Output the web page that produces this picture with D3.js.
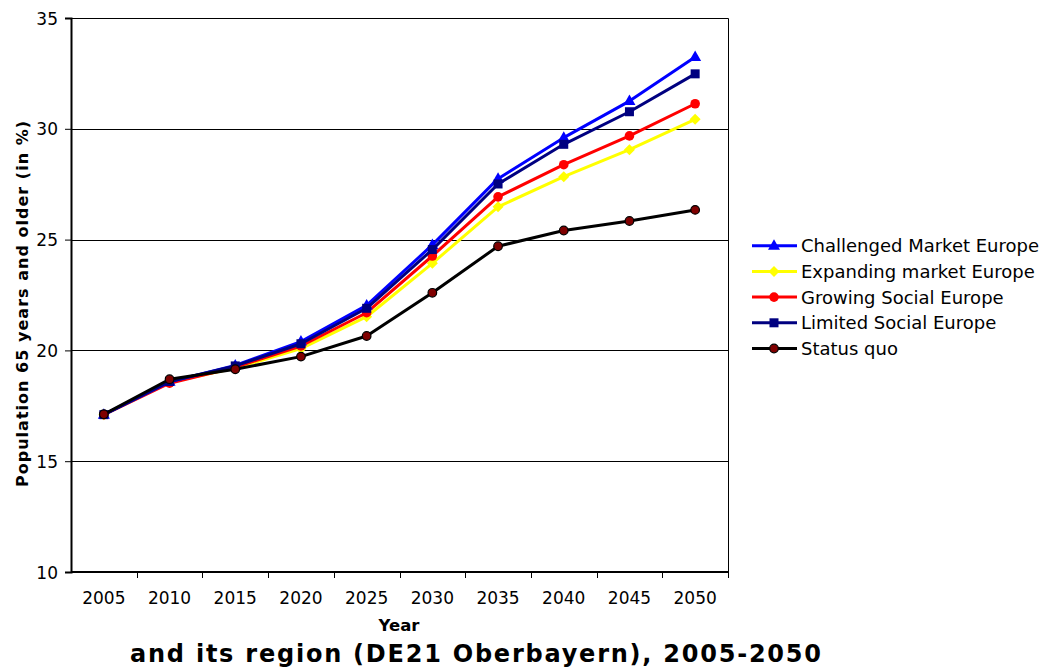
<!DOCTYPE html>
<html>
<head>
<meta charset="utf-8">
<script src="https://cdn.jsdelivr.net/npm/d3@7"></script>
<style>
  html, body { margin: 0; padding: 0; background: #fff; }
  svg { display: block; }
  text { font-family: "DejaVu Sans", Verdana, sans-serif; fill: #000; }
</style>
</head>
<body>
<svg id="chart" width="1044" height="668"></svg>
<script>
// Share of population aged 65+ (%) by scenario
const years = ["2005", "2010", "2015", "2020", "2025", "2030", "2035", "2040", "2045", "2050"];
const challengedMarket = [17.1, 18.58, 19.32, 20.40, 22.03, 24.76, 27.75, 29.60, 31.25, 33.24];
const expandingMarket  = [17.1, 18.56, 19.20, 20.08, 21.52, 23.93, 26.48, 27.84, 29.06, 30.43];
const growingSocial    = [17.1, 18.52, 19.24, 20.20, 21.70, 24.26, 26.93, 28.38, 29.68, 31.13];
const limitedSocial    = [17.1, 18.60, 19.30, 20.30, 21.90, 24.55, 27.51, 29.30, 30.77, 32.48];
const statusQuo        = [17.12, 18.70, 19.15, 19.72, 20.65, 22.60, 24.70, 25.41, 25.84, 26.34];
const yTicks = [10, 15, 20, 25, 30, 35];
const seriesNames = ["Challenged Market Europe", "Expanding market Europe", "Growing Social Europe", "Limited Social Europe", "Status quo"];

const series = [
  { name: seriesNames[0], values: challengedMarket, color: "#0000FF", marker: "triangle" },
  { name: seriesNames[1], values: expandingMarket,  color: "#FFFF00", marker: "diamond" },
  { name: seriesNames[2], values: growingSocial,    color: "#FF0000", marker: "circle" },
  { name: seriesNames[3], values: limitedSocial,    color: "#000080", marker: "square" },
  { name: seriesNames[4], values: statusQuo,        color: "#000000", marker: "dot" }
];

const svg = d3.select("#chart");
const plot = { left: 71, right: 728, top: 18, bottom: 572 };

const x = d3.scaleBand().domain(years).range([plot.left, plot.right]);
const y = d3.scaleLinear().domain([10, 35]).range([plot.bottom, plot.top]);
const cx = d => x(d) + x.bandwidth() / 2;

// plot frame (top and right)
svg.append("path")
  .attr("d", `M${plot.left},${plot.top + 0.5}H${plot.right + 0.5}V${plot.bottom}`)
  .attr("fill", "none").attr("stroke", "#000").attr("stroke-width", 1);

// horizontal gridlines
svg.append("g").selectAll("line").data(yTicks.filter(t => t > 10 && t < 35)).join("line")
  .attr("x1", plot.left).attr("x2", plot.right)
  .attr("y1", d => Math.round(y(d)) + 0.5).attr("y2", d => Math.round(y(d)) + 0.5)
  .attr("stroke", "#000").attr("stroke-width", 1);

// y axis
const yAxis = svg.append("g").attr("transform", `translate(${plot.left},0)`)
  .call(d3.axisLeft(y).tickValues(yTicks).tickSize(6).tickPadding(7));
yAxis.select(".domain").attr("stroke", "#000").attr("stroke-width", 2);
yAxis.selectAll(".tick line").attr("stroke", "#000");
yAxis.selectAll(".tick text").attr("font-size", 17).attr("font-family", "DejaVu Sans, sans-serif")
  .attr("fill", "#000").attr("dy", "0.36em");

// x axis with ticks at band boundaries
const xAxisG = svg.append("g").attr("transform", `translate(0,${plot.bottom})`);
xAxisG.append("line").attr("x1", plot.left).attr("x2", plot.right + 1)
  .attr("stroke", "#000").attr("stroke-width", 2);
const boundaries = years.map(d => x(d)).concat([plot.right]);
xAxisG.selectAll("line.tk").data(boundaries.slice(1)).join("line").attr("class", "tk")
  .attr("x1", d => Math.round(d) + 0.5).attr("x2", d => Math.round(d) + 0.5)
  .attr("y1", 0).attr("y2", 6).attr("stroke", "#000");
xAxisG.selectAll("text").data(years).join("text")
  .attr("x", d => cx(d)).attr("y", 31.5)
  .attr("text-anchor", "middle").attr("font-size", 17)
  .text(d => d);

// axis titles
svg.append("text").attr("x", 399).attr("y", 631)
  .attr("text-anchor", "middle").attr("font-size", 16.5).attr("font-weight", "bold")
  .text("Year");
svg.append("text")
  .attr("transform", `translate(28,${487}) rotate(-90)`)
  .attr("text-anchor", "start").attr("font-size", 16).attr("font-weight", "bold")
  .attr("textLength", 366).attr("lengthAdjust", "spacing")
  .text("Population 65 years and older (in %)");

// chart title
svg.append("text").attr("x", 130).attr("y", 662)
  .attr("text-anchor", "start").attr("font-size", 24).attr("font-weight", "bold")
  .attr("textLength", 691).attr("lengthAdjust", "spacing")
  .text("and its region (DE21 Oberbayern), 2005-2050");

function drawMarker(g, type, color) {
  if (type === "triangle") {
    g.append("path").attr("d", "M0,-6.5L6,4L-6,4Z").attr("fill", color);
  } else if (type === "diamond") {
    g.append("path").attr("d", "M0,-5.5L5.5,0L0,5.5L-5.5,0Z").attr("fill", color);
  } else if (type === "circle") {
    g.append("circle").attr("r", 4.8).attr("fill", color);
  } else if (type === "square") {
    g.append("rect").attr("x", -4.5).attr("y", -4.5).attr("width", 9).attr("height", 9).attr("fill", color);
  } else if (type === "dot") {
    g.append("circle").attr("r", 4.3).attr("fill", "#800000").attr("stroke", "#000").attr("stroke-width", 1.2);
  }
}

const line = d3.line().x((d, i) => cx(years[i])).y(d => y(d));

// draw series; status quo last so it sits on top
const drawOrder = [1, 2, 0, 3, 4];
drawOrder.forEach(k => {
  const s = series[k];
  const g = svg.append("g");
  g.append("path").datum(s.values).attr("d", line)
    .attr("fill", "none").attr("stroke", s.color).attr("stroke-width", 3)
    .attr("stroke-linejoin", "round");
  s.values.forEach((v, i) => {
    const m = g.append("g").attr("transform", `translate(${cx(years[i])},${y(v)})`);
    drawMarker(m, s.marker, s.color);
  });
});

// legend
const legend = svg.append("g");
series.forEach((s, i) => {
  const ly = 245.7 + i * 25.7;
  legend.append("line").attr("x1", 752).attr("x2", 797).attr("y1", ly).attr("y2", ly)
    .attr("stroke", s.color).attr("stroke-width", 3);
  const m = legend.append("g").attr("transform", `translate(774,${ly})`);
  drawMarker(m, s.marker, s.color);
  legend.append("text").attr("x", 801).attr("y", ly + 6.6)
    .attr("font-size", 18).text(s.name);
});
</script>
</body>
</html>
